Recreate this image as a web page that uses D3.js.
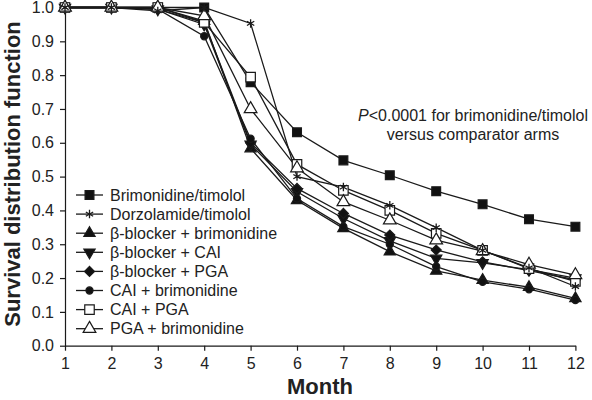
<!DOCTYPE html>
<html><head><meta charset="utf-8">
<script src="https://cdn.jsdelivr.net/npm/d3@7/dist/d3.min.js"></script>
<style>
html,body{margin:0;padding:0;background:#fff;}
svg{display:block;font-family:"Liberation Sans",Arial,Helvetica,sans-serif;}
</style></head>
<body>
<svg id="chart" width="592" height="400"></svg>
<script>
const months = [1,2,3,4,5,6,7,8,9,10,11,12];
const yTicks = [0,0.1,0.2,0.3,0.4,0.5,0.6,0.7,0.8,0.9,1.0];
const seriesNames = ["Brimonidine/timolol","Dorzolamide/timolol","β-blocker + brimonidine","β-blocker + CAI","β-blocker + PGA","CAI + brimonidine","CAI + PGA","PGA + brimonidine"];
const brimTim   = [1.0,1.0,1.0,1.0,0.779,0.631,0.548,0.504,0.457,0.418,0.374,0.352];
const dorzTim   = [1.0,1.0,0.99,1.0,0.953,0.50,0.469,0.415,0.349,0.282,0.230,0.175];
const bbBrim    = [1.0,1.0,1.0,0.96,0.583,0.43,0.347,0.278,0.221,0.194,0.173,0.140];
const bbCai     = [1.0,1.0,0.995,0.95,0.595,0.455,0.376,0.310,0.258,0.245,0.225,0.200];
const bbPga     = [1.0,1.0,0.995,0.955,0.600,0.465,0.391,0.327,0.283,0.248,0.222,0.195];
const caiBrim   = [1.0,1.0,0.995,0.915,0.612,0.435,0.352,0.300,0.234,0.189,0.167,0.135];
const caiPga    = [1.0,1.0,1.0,0.956,0.794,0.536,0.459,0.400,0.332,0.282,0.228,0.190];
const pgaBrim   = [1.0,1.0,1.0,0.975,0.700,0.525,0.425,0.371,0.312,0.280,0.240,0.209];
const annotation = ["<0.0001 for brimonidine/timolol","versus comparator arms"];

const seriesValues = [brimTim,dorzTim,bbBrim,bbCai,bbPga,caiBrim,caiPga,pgaBrim];
const markers = [
  {type:d3.symbolSquare,size:78,fill:"#111",rot:0},
  {type:d3.symbolAsterisk,size:50,fill:"none",rot:0,stroke:true},
  {type:d3.symbolTriangle,size:55,fill:"#111",rot:0},
  {type:d3.symbolTriangle,size:55,fill:"#111",rot:180},
  {type:d3.symbolSquare,size:50,fill:"#111",rot:45},
  {type:d3.symbolCircle,size:40,fill:"#111",rot:0},
  {type:d3.symbolSquare,size:90,fill:"#fff",rot:0},
  {type:d3.symbolTriangle,size:70,fill:"#fff",rot:0}
];

const svg = d3.select("#chart");
const x = d3.scaleLinear().domain([1,12]).range([65,575.4]);
const y = d3.scaleLinear().domain([0,1]).range([345.7,7.5]);
const ink = "#1a1a1a";

const xAxis = svg.append("g").attr("transform",`translate(0,${y(0)})`)
  .call(d3.axisBottom(x).tickValues(months).tickFormat(d3.format("d")).tickSize(5).tickSizeOuter(0).tickPadding(7));
const yAxis = svg.append("g").attr("transform",`translate(${x(1)},0)`)
  .call(d3.axisLeft(y).tickValues(yTicks).tickFormat(d3.format(".1f")).tickSize(5).tickSizeOuter(0).tickPadding(6));
[xAxis,yAxis].forEach(g=>{
  g.selectAll("path,line").attr("stroke",ink).attr("stroke-width",1.2);
  g.selectAll("text").attr("font-size",16).attr("fill","#222").attr("font-family","Liberation Sans, Arial, sans-serif");
});

svg.append("text").attr("transform",`translate(19.5,174) rotate(-90)`)
  .attr("text-anchor","middle").attr("font-size",22).attr("font-weight","bold").attr("fill","#222")
  .text("Survival distribution function");
svg.append("text").attr("x",320).attr("y",394).attr("text-anchor","middle")
  .attr("font-size",22).attr("font-weight","bold").attr("fill","#222").text("Month");

const ann = svg.append("text").attr("x",473).attr("y",121).attr("text-anchor","middle").attr("font-size",16).attr("fill","#222");
ann.append("tspan").attr("font-style","italic").text("P");
ann.append("tspan").text(annotation[0]);
svg.append("text").attr("x",473).attr("y",140).attr("text-anchor","middle").attr("font-size",16).attr("fill","#222").text(annotation[1]);

const line = d3.line().x((d,i)=>x(months[i])).y(d=>y(d));
const plot = svg.append("g");
seriesValues.forEach(vals=>{
  plot.append("path").attr("d",line(vals)).attr("fill","none").attr("stroke",ink).attr("stroke-width",1.3);
});

function drawMarker(g, m, cx, cy){
  const p = g.append("path").attr("d",d3.symbol().type(m.type).size(m.size)())
    .attr("transform",`translate(${cx},${cy}) rotate(${m.rot})`);
  if(m.stroke){ p.attr("fill","none").attr("stroke",ink).attr("stroke-width",1.3); }
  else { p.attr("fill",m.fill).attr("stroke",ink).attr("stroke-width",1.2); }
}
const order = [0,2,3,4,5,6,7,1];
order.forEach(si=>{
  seriesValues[si].forEach((v,i)=>drawMarker(plot, markers[si], x(months[i]), y(v)));
});

const leg = svg.append("g");
seriesNames.forEach((name,i)=>{
  const cy = 195 + i*19.1;
  leg.append("line").attr("x1",76).attr("x2",103).attr("y1",cy).attr("y2",cy).attr("stroke",ink).attr("stroke-width",1.3);
  drawMarker(leg, markers[i], 89.5, cy);
  leg.append("text").attr("x",110).attr("y",cy).attr("dy","0.35em").attr("font-size",16).attr("fill","#222").text(name);
});
</script>
</body></html>
